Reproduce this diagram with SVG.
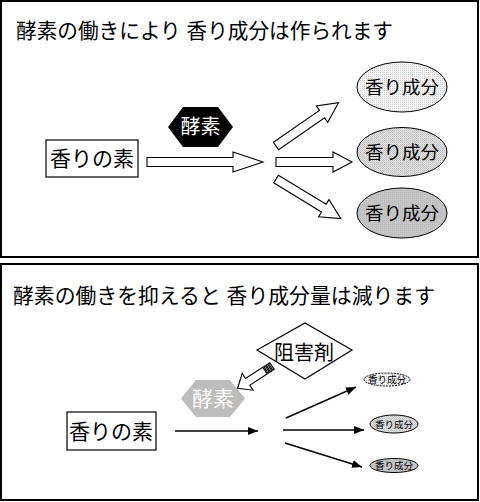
<svg xmlns="http://www.w3.org/2000/svg" width="480" height="502" viewBox="0 0 480 502">
<style>
text{font-family:"Liberation Sans","Noto Sans CJK JP",sans-serif;fill:#000;}
.c{text-anchor:middle;dominant-baseline:central;}
.panel{fill:#fff;stroke:#000;stroke-width:2;}
.box{fill:#fff;stroke:#000;stroke-width:1.2;}
.blk{fill:#fff;stroke:#000;stroke-width:1.1;stroke-linejoin:miter;}
.ln{stroke:#000;stroke-width:1.4;fill:none;marker-end:url(#ah);}
.ell{stroke:#000;stroke-width:1;}
</style>
<defs>
<marker id="ah" markerUnits="userSpaceOnUse" markerWidth="10" markerHeight="8" refX="10" refY="4" orient="auto">
<path d="M0,0 L10,4 L0,8 Z" fill="#000"/>
</marker>
<pattern id="p1" patternUnits="userSpaceOnUse" width="2" height="2">
<rect width="2" height="2" fill="#f6f6f6"/><rect width="1" height="1" fill="#cfcfcf"/>
</pattern>
<pattern id="p2" patternUnits="userSpaceOnUse" width="2" height="2">
<rect width="2" height="2" fill="#e6e6e6"/><rect width="1" height="1" fill="#bcbcbc"/><rect x="1" y="1" width="1" height="1" fill="#c8c8c8"/>
</pattern>
<pattern id="p3" patternUnits="userSpaceOnUse" width="2" height="2">
<rect width="2" height="2" fill="#c6c6c6"/><rect width="1" height="1" fill="#bababa"/>
</pattern>
<path id="diag" d="M0,-4.5 H56 V-10 L76,0 L56,10 V4.5 H0 Z"/>
</defs>

<g id="panel-top">
<rect class="panel" x="1" y="1" width="477" height="256"/>
<text x="16" y="30" font-size="21" dominant-baseline="central" textLength="377" lengthAdjust="spacingAndGlyphs">酵素の働きにより 香り成分は作られます</text>
</g>

<g id="panel-bottom">
<rect class="panel" x="1" y="264" width="477" height="236"/>
<text x="13" y="295" font-size="21" dominant-baseline="central" textLength="422" lengthAdjust="spacingAndGlyphs">酵素の働きを抑えると 香り成分量は減ります</text>
</g>

<g id="connectors">
<path class="blk" d="M147,157.5 H233 V152 L263,162 L233,172 V166.5 H147 Z"/>
<path class="blk" d="M276,157.5 H333 V152 L352,162 L333,172 V166.5 H276 Z"/>
<use href="#diag" class="blk" transform="translate(276,146) rotate(-34.7)"/>
<use href="#diag" class="blk" transform="translate(276,179) rotate(31.4)"/>

<g id="inhibit-arrow" transform="translate(272,366) rotate(147)">
<rect class="blk" x="0" y="-4" width="1.6" height="8"/>
<rect class="blk" x="2.8" y="-4" width="1.6" height="8"/>
<rect class="blk" x="5.6" y="-4" width="1.6" height="8"/>
<path class="blk" d="M8.4,-4 H29 V-10 L41,0 L29,10 V4 H8.4 Z"/>
</g>

<line class="ln" x1="175" y1="431" x2="258" y2="431"/>
<line class="ln" x1="283" y1="430" x2="364" y2="430"/>
<line class="ln" x1="286" y1="418" x2="356" y2="387"/>
<line class="ln" x1="285" y1="443" x2="362" y2="467"/>
</g>

<g id="node-source-top">
<rect class="box" x="46" y="140" width="92" height="37"/>
<text class="c" x="92" y="158.5" font-size="21">香りの素</text>
</g>

<g id="node-enzyme-top">
<polygon points="168,127 183,107 218,107 233,127 218,147 183,147" fill="#000"/>
<text class="c" x="200.5" y="127" font-size="20" style="fill:#fff">酵素</text>
</g>

<g id="node-comp-top-1">
<ellipse class="ell" cx="402" cy="87" rx="45" ry="25" fill="url(#p1)"/>
<text class="c" x="402" y="87" font-size="18.5">香り成分</text>
</g>
<g id="node-comp-top-2">
<ellipse class="ell" cx="402" cy="152" rx="45" ry="24.5" fill="url(#p2)"/>
<text class="c" x="402" y="152" font-size="18.5">香り成分</text>
</g>
<g id="node-comp-top-3">
<ellipse class="ell" cx="402" cy="213" rx="45" ry="25" fill="url(#p3)"/>
<text class="c" x="402" y="213" font-size="18.5">香り成分</text>
</g>

<g id="node-inhibitor">
<polygon points="257,350 305,323 352,350 305,379" fill="#fff" stroke="#000" stroke-width="1.2"/>
<text class="c" x="304" y="353" font-size="20">阻害剤</text>
</g>

<g id="node-enzyme-bottom">
<polygon points="181,398.5 196,380 230,380 245,398.5 230,417 196,417" fill="#bdbdbd"/>
<text class="c" x="213" y="398.5" font-size="21" style="fill:#fff">酵素</text>
</g>

<g id="node-source-bottom">
<rect class="box" x="67" y="412" width="89" height="38"/>
<text class="c" x="111" y="431.5" font-size="21">香りの素</text>
</g>

<g id="node-comp-bottom-1">
<ellipse cx="387" cy="379.5" rx="23" ry="6.5" fill="url(#p1)" stroke="#000" stroke-width="1" stroke-dasharray="2,1"/>
<text class="c" x="387" y="379.5" font-size="9.5">香り成分</text>
</g>
<g id="node-comp-bottom-2">
<ellipse class="ell" cx="394" cy="424" rx="24" ry="9" fill="url(#p2)"/>
<text class="c" x="394" y="424" font-size="9.5">香り成分</text>
</g>
<g id="node-comp-bottom-3">
<ellipse class="ell" cx="394" cy="465.5" rx="24" ry="7" fill="url(#p3)"/>
<text class="c" x="394" y="465.5" font-size="9.5">香り成分</text>
</g>
</svg>
